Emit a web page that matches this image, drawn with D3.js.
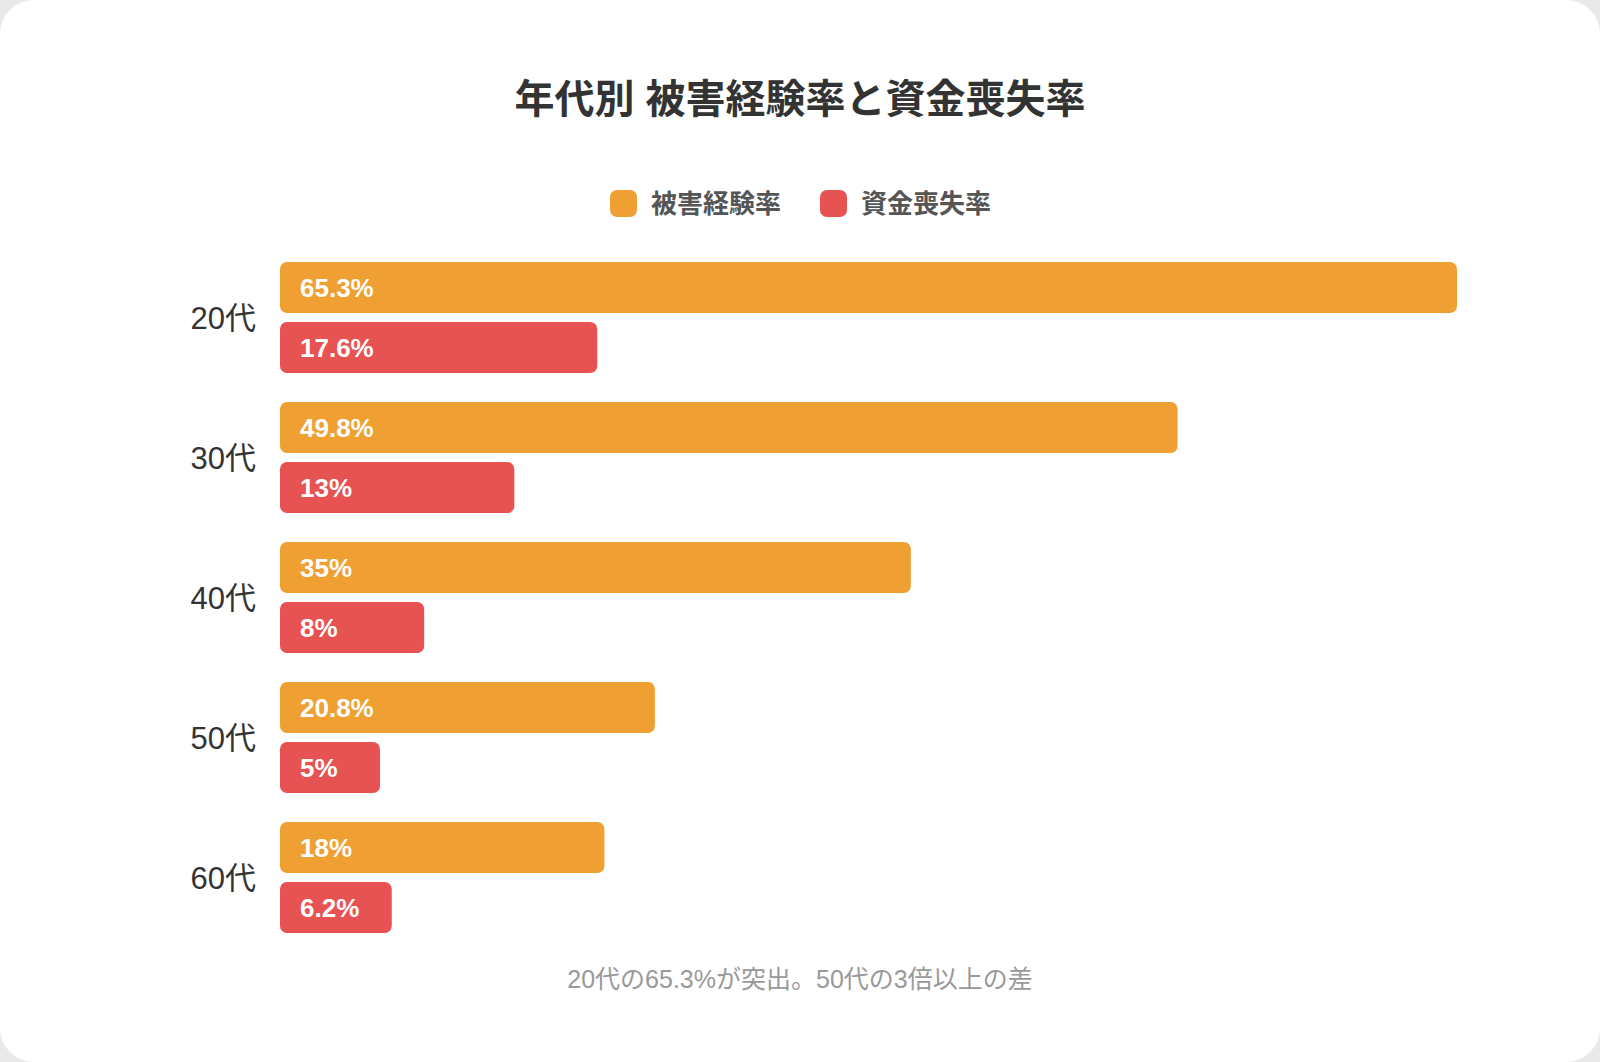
<!doctype html>
<html lang="ja">
<head>
  <meta charset="utf-8">
  <title>年代別 被害経験率と資金喪失率</title>
  <style>
  html, body {
    margin: 0;
    padding: 0;
    background: #e9e9e9;
  }
  svg {
    display: block;
  }
  text {
    font-family: "Liberation Sans", Arial, "Noto Sans CJK JP", sans-serif;
  }
  </style>
</head>
<body>
  <div id="chart"></div>
  <script src="https://cdn.jsdelivr.net/npm/d3@7"></script>
  <script>
    // data
    var ages = ['20代', '30代', '40代', '50代', '60代'];
    var seriesNames = ['被害経験率', '資金喪失率'];
    var seriesColors = ['#f0a032', '#e75252'];
    var experienceRate = [65.3, 49.8, 35, 20.8, 18];
    var lossRate = [17.6, 13, 8, 5, 6.2];
    var titleText = '年代別 被害経験率と資金喪失率';
    var noteText = '20代の65.3%が突出。50代の3倍以上の差';

    var width = 1600,
        height = 1062,
        minBar = 100; // short bars keep room for their label

    var svg = d3.select('#chart')
      .append('svg')
      .attr('width', width)
      .attr('height', height);

    // white card
    svg.append('rect')
      .attr('x', 0).attr('y', 0)
      .attr('width', width).attr('height', height)
      .attr('rx', 34).attr('ry', 34)
      .attr('fill', '#ffffff');

    svg.append('text')
      .attr('x', 800)
      .attr('y', 113)
      .attr('text-anchor', 'middle')
      .attr('font-size', 40)
      .attr('font-weight', 'bold')
      .attr('fill', '#333')
      .text(titleText);

    // legend
    var legend = svg.append('g');
    var legendX = [610, 820];
    seriesNames.forEach(function(name, i) {
      var g = legend.append('g').attr('transform', 'translate(' + legendX[i] + ',190)');
      g.append('rect')
        .attr('width', 27).attr('height', 27)
        .attr('rx', 7)
        .attr('fill', seriesColors[i]);
      g.append('text')
        .attr('x', 41)
        .attr('y', 23)
        .attr('font-size', 26)
        .attr('font-weight', 'bold')
        .attr('fill', '#555')
        .text(name);
    });

    var rows = ages.map(function(a, i) {
      return { age: a, values: [experienceRate[i], lossRate[i]] };
    });

    var y0 = d3.scaleBand()
      .domain(ages)
      .range([247.5, 947.5])
      .paddingInner(29 / 140)
      .paddingOuter(29 / 280);

    var y1 = d3.scaleBand()
      .domain(seriesNames)
      .range([0, y0.bandwidth()])
      .paddingInner(0.15);

    var x = d3.scaleLinear()
      .domain([0, d3.max(experienceRate)])
      .range([280, 1457]);

    var groups = svg.selectAll('.group')
      .data(rows)
      .enter()
      .append('g')
      .attr('class', 'group')
      .attr('transform', function(d) { return 'translate(0,' + y0(d.age) + ')'; });

    groups.append('text')
      .attr('x', 256)
      .attr('y', y0.bandwidth() / 2)
      .attr('dy', '0.36em')
      .attr('text-anchor', 'end')
      .attr('font-size', 31)
      .attr('fill', '#333')
      .text(function(d) { return d.age; });

    var bars = groups.selectAll('.bar')
      .data(function(d) {
        return d.values.map(function(v, i) { return { name: seriesNames[i], value: v, i: i }; });
      })
      .enter()
      .append('g')
      .attr('class', 'bar');

    bars.append('rect')
      .attr('x', x(0))
      .attr('y', function(d) { return y1(d.name); })
      .attr('width', function(d) { return Math.max(x(d.value) - x(0), minBar); })
      .attr('height', y1.bandwidth())
      .attr('rx', 7)
      .attr('fill', function(d) { return seriesColors[d.i]; });

    bars.append('text')
      .attr('x', x(0) + 20)
      .attr('y', function(d) { return y1(d.name) + y1.bandwidth() / 2; })
      .attr('dy', '0.36em')
      .attr('font-size', 26)
      .attr('font-weight', 'bold')
      .attr('fill', '#fff')
      .text(function(d) { return d.value + '%'; });

    svg.append('text')
      .attr('x', 800)
      .attr('y', 988)
      .attr('text-anchor', 'middle')
      .attr('font-size', 25)
      .attr('fill', '#999')
      .text(noteText);
  </script>
</body>
</html>
